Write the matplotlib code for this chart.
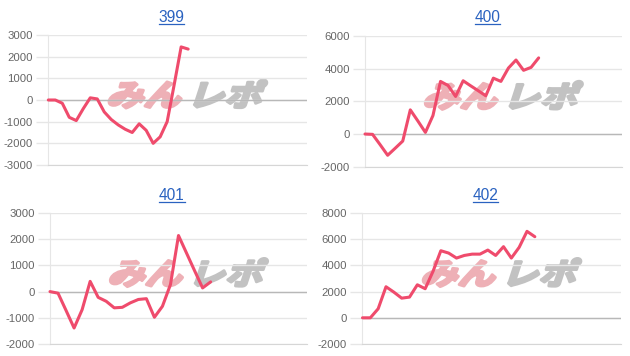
import numpy as np
import matplotlib
matplotlib.use("Agg")
import matplotlib.pyplot as plt
from matplotlib import patheffects as pe
from matplotlib.transforms import Affine2D
from matplotlib.lines import Line2D

# chart titles (machine numbers)
titles = ["399", "400", "401", "402"]

# cumulative difference series
s399 = [0, 0, -150, -800, -950, -400, 100, 50, -550, -900, -1150,
        -1350, -1500, -1100, -1400, -2000, -1700, -1000, 700, 2450, 2350]
s400 = [0, -20, -650, -1300, -870, -430, 1480, 800, 100, 1130, 3220, 2970,
        2300, 3260, 2950, 2650, 2340, 3420, 3220, 4040, 4530, 3900, 4080, 4660]
s401 = [0, -60, -720, -1390, -690, 390, -220, -370, -620, -600, -430,
        -300, -270, -980, -560, 270, 2140, 1470, 800, 140, 370]
s402 = [0, 0, 690, 2370, 1960, 1500, 1580, 2520, 2220, 3540, 5120, 4940,
        4560, 4760, 4860, 4860, 5170, 4760, 5430, 4560, 5380, 6600, 6190]
series = [s399, s400, s401, s402]

# number of category slots on each x axis
slots = [38, 35, 33, 34]

# y axis ranges: (min, max, step)
y_ranges = [(-3000, 3000, 1000), (-2000, 6000, 2000),
            (-2000, 3000, 1000), (-2000, 8000, 2000)]

W, H = 630, 356
# plot areas in pixels: left, top, right, bottom
boxes = [(48.3, 35, 307, 165), (365, 36, 621.7, 166.7),
         (50, 213, 307, 344), (362.5, 213, 621, 344)]
# title anchor (center x, baseline y) in pixels
title_pos = [(171.5, 22), (487.5, 22.5), (172, 200), (485.5, 200)]

line_color = "#ef4b6c"
grid_color = "#e6e6e6"
zero_color = "#b8b8b8"
link_blue = "#2a62c0"


class Slant(pe.AbstractPathEffect):
    """Sheared, stretched and thickened text, like the logo watermark."""

    def __init__(self, shear_deg=18, sx=1.25, lw=2.2):
        super().__init__()
        self.shear_deg = shear_deg
        self.sx = sx
        self.lw = lw

    def draw_path(self, renderer, gc, tpath, affine, rgbFace=None):
        tr = Affine2D().scale(self.sx, 1).skew_deg(self.shear_deg, 0) + affine
        gc0 = renderer.new_gc()
        gc0.copy_properties(gc)
        gc0.set_linewidth(self.lw)
        gc0.set_foreground(rgbFace)
        gc0.set_joinstyle("round")
        renderer.draw_path(gc0, tpath, tr, rgbFace)
        gc0.restore()


def main():
    fig = plt.figure(figsize=(W / 100, H / 100), dpi=100)
    title_texts = []
    cjk = ["Noto Sans CJK JP", "DejaVu Sans"]

    for i in range(4):
        l, t, r, b = boxes[i]
        ax = fig.add_axes([l / W, 1 - b / H, (r - l) / W, (b - t) / H])
        ymin, ymax, step = y_ranges[i]
        yticks = np.arange(ymin, ymax + step, step)

        ax.set_xlim(0, slots[i] - 1)
        ax.set_ylim(ymin, ymax)
        ax.set_yticks(yticks)
        ax.set_yticklabels([str(v) for v in yticks])
        ax.set_xticks([])

        ax.grid(axis="y", color=grid_color, linewidth=1)
        ax.set_axisbelow(True)
        ax.axhline(0, color=zero_color, linewidth=1, zorder=1)

        for side in ["top", "right"]:
            ax.spines[side].set_visible(False)
        ax.spines["left"].set_color(grid_color)
        ax.spines["bottom"].set_color("#d6d6d6")

        ax.tick_params(axis="y", length=9, width=1, color=grid_color,
                       labelsize=8.2, labelcolor="#666666", pad=2)
        for tick, v in zip(ax.yaxis.get_major_ticks(), yticks):
            if v == 0:
                tick.tick1line.set_color(zero_color)
        for lab in ax.get_yticklabels():
            lab.set_fontfamily("Liberation Sans")

        # watermark logo, sits behind the grid
        slant = [Slant()]
        ax.text(0.222, 0.455, "みん", transform=ax.transAxes, fontsize=21.5,
                fontweight="bold", family=cjk, color="#eeb0b6",
                ha="left", va="baseline", zorder=0.3, path_effects=slant)
        ax.text(0.535, 0.455, "レポ", transform=ax.transAxes, fontsize=21.5,
                fontweight="bold", family=cjk, color="#c2c2c2",
                ha="left", va="baseline", zorder=0.3, path_effects=slant)

        y = series[i]
        x = np.arange(len(y))
        ax.plot(x, y, color=line_color, linewidth=2.2,
                solid_joinstyle="round", solid_capstyle="round", zorder=3,
                clip_on=False)

        tx, ty = title_pos[i]
        txt = fig.text(tx / W, 1 - ty / H, titles[i], ha="center",
                       va="baseline", fontsize=11.2, color=link_blue,
                       family="Liberation Sans")
        title_texts.append((txt, ty))

    # underline the link-style titles
    fig.canvas.draw()
    renderer = fig.canvas.get_renderer()
    for txt, ty in title_texts:
        bb = txt.get_window_extent(renderer)
        yl = 1 - (ty + 1.6) / H
        fig.add_artist(Line2D([bb.x0 / W, bb.x1 / W], [yl, yl],
                              transform=fig.transFigure, color=link_blue,
                              linewidth=0.9))

    fig.savefig("out.png", dpi=100)


if __name__ == "__main__":
    main()
